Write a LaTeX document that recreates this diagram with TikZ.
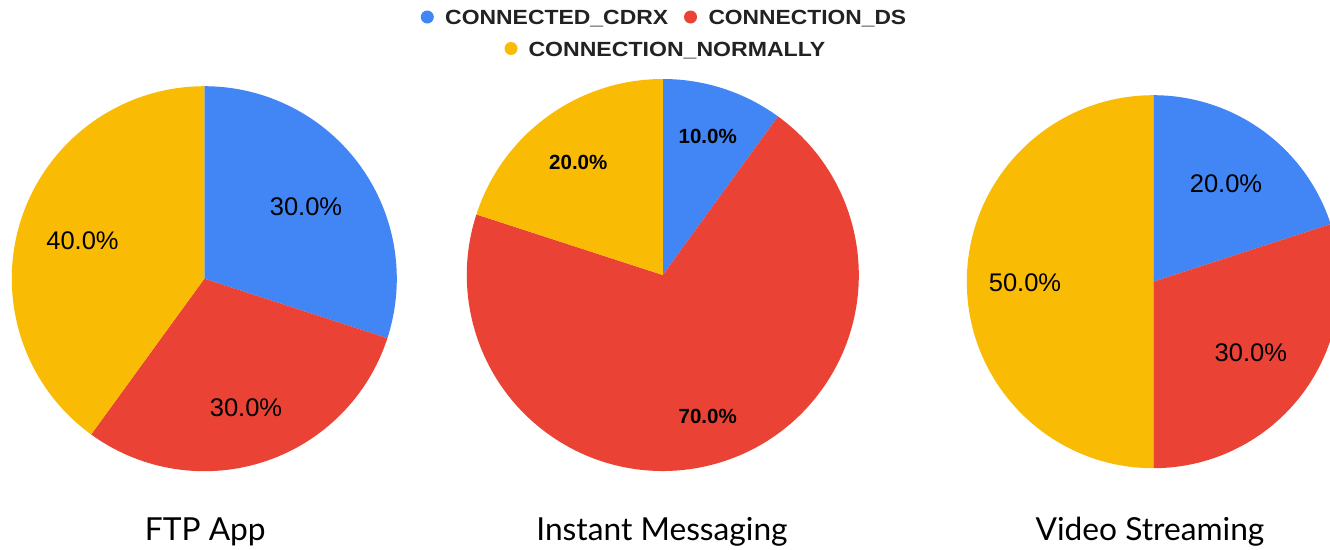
\documentclass[tikz,border=0pt]{standalone}
\usepackage{graphicx}
\usepackage{fontspec}
\setmainfont{Liberation Sans}
\newfontfamily\titlefont{Lato}

\definecolor{cblue}{HTML}{4285F4}
\definecolor{cred}{HTML}{EA4335}
\definecolor{cyellow}{HTML}{FABB05}
\definecolor{legendtext}{HTML}{222222}

% one wedge of a pie: centre, radius, start angle, end angle, colour
% (y axis points down, so angles run clockwise; -90 is 12 o'clock)
\newcommand\drawwedge[5]{%
  \fill[#5] (#1) -- ++(#3:#2) arc[start angle=#3, end angle=#4, radius=#2] -- cycle;}
% wide bold legend lettering, stretched to a given width
\newcommand\legendword[2]{\resizebox{#1}{\height}{#2}}

\begin{document}
\begin{tikzpicture}[x=1pt, y=-1pt,
  pct/.style={inner sep=0pt, text=black, font=\fontsize{25.5}{30}\selectfont},
  pctbold/.style={inner sep=0pt, text=black, font=\fontsize{20.5}{24}\selectfont\bfseries},
  legendlabel/.style={inner sep=0pt, anchor=base west, text=legendtext,
    font=\bfseries\fontsize{20.5}{24}\selectfont},
  legenddot/.style={circle, inner sep=0pt, minimum size=13pt},
  charttitle/.style={inner sep=0pt, anchor=base, text=black,
    font=\titlefont\fontsize{31.7}{38}\selectfont}]

\clip (0,0) rectangle (1330,549);
\fill[white] (0,0) rectangle (1330,549);

% pie centres
\coordinate (ftp) at (204.3,278.7);
\coordinate (im)  at (662.8,275);
\coordinate (vs)  at (1153.3,281.7);

% FTP App: 30 / 30 / 40
\drawwedge{ftp}{192.5}{-90}{18}{cblue}
\drawwedge{ftp}{192.5}{18}{126}{cred}
\drawwedge{ftp}{192.5}{126}{270}{cyellow}

% Instant Messaging: 10 / 70 / 20
\drawwedge{im}{196}{-90}{-54}{cblue}
\drawwedge{im}{196}{-54}{198}{cred}
\drawwedge{im}{196}{198}{270}{cyellow}

% Video Streaming: 20 / 30 / 50
\drawwedge{vs}{186.5}{-90}{-18}{cblue}
\drawwedge{vs}{186.5}{-18}{90}{cred}
\drawwedge{vs}{186.5}{90}{270}{cyellow}

% slice percentages
\node[pct] (ftpA) at (306,206.5) {30.0\%};
\node[pct] (ftpB) at (246,408) {30.0\%};
\node[pct] (ftpC) at (82.5,241) {40.0\%};

\node[pctbold] (imA) at (707.7,136) {10.0\%};
\node[pctbold] (imB) at (707.7,416) {70.0\%};
\node[pctbold] (imC) at (578.3,162.5) {20.0\%};

\node[pct] (vsA) at (1226,183.5) {20.0\%};
\node[pct] (vsB) at (1250.8,353) {30.0\%};
\node[pct] (vsC) at (1025,283) {50.0\%};

% legend
\node[legenddot, fill=cblue]   (dotA) at (427.3,17) {};
\node[legendlabel] (legA) at (445,24) {\legendword{223pt}{CONNECTED\_CDRX}};
\node[legenddot, fill=cred]    (dotB) at (690.5,17) {};
\node[legendlabel] (legB) at (708.3,24) {\legendword{197.7pt}{CONNECTION\_DS}};
\node[legenddot, fill=cyellow] (dotC) at (511,48.5) {};
\node[legendlabel] (legC) at (528.3,56) {\legendword{296.7pt}{CONNECTION\_NORMALLY}};

% chart titles
\node[charttitle] (tftp) at (205.3,540) {FTP App};
\node[charttitle] (tim)  at (662,540) {Instant Messaging};
\node[charttitle] (tvs)  at (1150,540) {Video Streaming};
\end{tikzpicture}
\end{document}
